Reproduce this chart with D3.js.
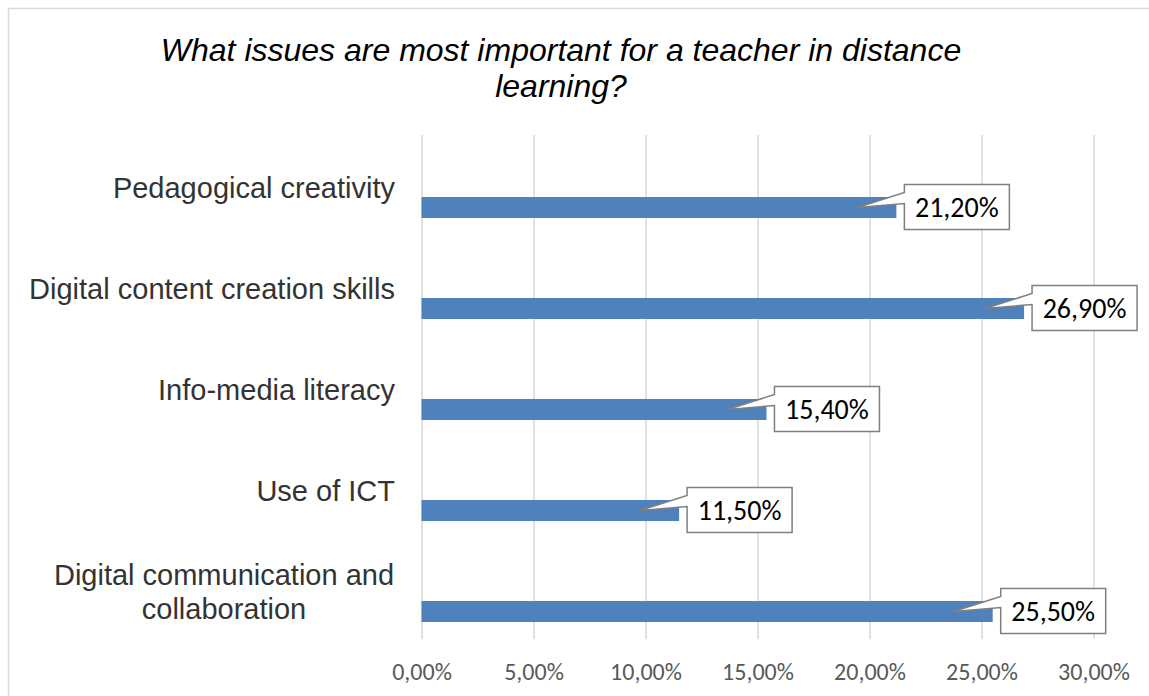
<!DOCTYPE html>
<html>
<head>
<meta charset="utf-8">
<script src="https://cdn.jsdelivr.net/npm/d3@7"></script>
<style>
  html, body { margin: 0; padding: 0; background: #fff; }
  svg { display: block; }
</style>
</head>
<body>
<script>
/* DATA */
var categories = [
  ['Pedagogical creativity'],
  ['Digital content creation skills'],
  ['Info-media literacy'],
  ['Use of ICT'],
  ['Digital communication and', 'collaboration']
];
var values = [0.212, 0.269, 0.154, 0.115, 0.255];
var ticks = [0, 0.05, 0.10, 0.15, 0.20, 0.25, 0.30];
var title = ['What issues are most important for a teacher in distance', 'learning?'];

/* SIZES */
var w = 1149, h = 696;
var c = {
  bar:   '#4f81bd',
  grid:  '#d9d9d9',
  cat:   '#333333',
  tick:  '#595959',
  box:   '#7f7f7f'
};

var pct = d3.formatLocale({ decimal: ',', thousands: '.', grouping: [3], currency: ['', '€'] }).format('.2%');

var svg = d3.select('body').append('svg')
  .attr('width', w)
  .attr('height', h);

/* CHART BORDER */
svg.append('rect')
  .attr('x', 8.5).attr('y', 8.5)
  .attr('width', w + 20).attr('height', h + 20)
  .attr('fill', '#fff')
  .attr('stroke', c.grid)
  .attr('stroke-width', 1.5);

/* TITLE */
svg.append('text')
  .attr('text-anchor', 'middle')
  .attr('font-family', 'Arial, "Liberation Sans", sans-serif')
  .attr('font-style', 'italic')
  .attr('font-size', 32)
  .attr('fill', '#000')
  .selectAll('tspan')
  .data(title)
  .enter().append('tspan')
    .attr('x', 561)
    .attr('y', function(d, i){ return 61 + i * 36; })
    .text(function(d){ return d; });

/* SCALES */
var x = d3.scaleLinear().domain([0, 0.30]).range([421.5, 1093.5]);
var y = d3.scaleBand().domain(d3.range(categories.length)).range([137.5, 642.5]);

/* GRID + X AXIS */
var xAxis = svg.append('g')
  .attr('transform', 'translate(0,639)')
  .call(d3.axisBottom(x).tickValues(ticks).tickFormat(pct).tickSize(-504).tickPadding(24));
xAxis.select('.domain').remove();
xAxis.selectAll('.tick line').attr('stroke', c.grid).attr('stroke-width', 1.5);
xAxis.selectAll('.tick text')
  .attr('fill', c.tick)
  .attr('font-family', 'Calibri, Carlito, Lato, sans-serif')
  .attr('font-size', 24);

/* CATEGORY LABELS */
svg.selectAll('text.cat')
  .data(categories)
  .enter().append('text')
    .attr('class', 'cat')
    .attr('font-family', 'Arial, "Liberation Sans", sans-serif')
    .attr('font-size', 29)
    .attr('fill', c.cat)
    .attr('text-anchor', function(d){ return d.length > 1 ? 'middle' : 'end'; })
    .each(function(d, i){
      var cy = y(i) + y.bandwidth() / 2;
      var tx = d.length > 1 ? 224 : 395;
      d3.select(this).selectAll('tspan')
        .data(d)
        .enter().append('tspan')
          .attr('x', tx)
          .attr('y', function(t, j){ return cy + 10 + (j - (d.length - 1) / 2) * 34; })
          .text(function(t){ return t; });
    });

/* BARS */
svg.selectAll('rect.bar')
  .data(values)
  .enter().append('rect')
    .attr('class', 'bar')
    .attr('x', x(0))
    .attr('y', function(d, i){ return y(i) + y.bandwidth() / 2 + 9; })
    .attr('width', function(d){ return x(d) - x(0); })
    .attr('height', 21)
    .attr('fill', c.bar);

/* CALLOUT LABELS */
var callouts = svg.selectAll('g.callout')
  .data(values)
  .enter().append('g')
    .attr('class', 'callout');

callouts.append('path')
  .attr('fill', '#fff')
  .attr('stroke', c.box)
  .attr('stroke-width', 1.5)
  .attr('stroke-linejoin', 'miter')
  .attr('d', function(d, i){
    var cy = y(i) + y.bandwidth() / 2 + 19.5;
    var end = x(d);
    var l = end + 8, t = cy - 23, bw = 105, bh = 45;
    return 'M' + l + ',' + t +
      'L' + (l + bw) + ',' + t +
      'L' + (l + bw) + ',' + (t + bh) +
      'L' + l + ',' + (t + bh) +
      'L' + l + ',' + (t + 19) +
      'L' + (end - 39) + ',' + cy +
      'L' + l + ',' + (t + 8) + 'Z';
  });

callouts.append('text')
  .attr('x', function(d){ return x(d) + 8 + 52.5; })
  .attr('y', function(d, i){ return y(i) + y.bandwidth() / 2 + 19.5 + 9.5; })
  .attr('text-anchor', 'middle')
  .attr('font-family', 'Calibri, Carlito, Lato, sans-serif')
  .attr('font-size', 28)
  .attr('fill', '#000')
  .text(function(d){ return pct(d); });
</script>
</body>
</html>
